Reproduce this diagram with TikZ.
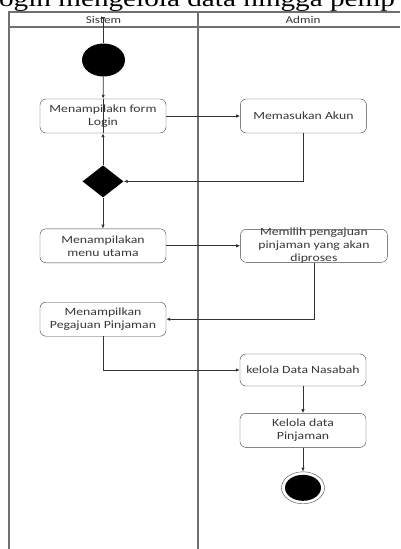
\documentclass[tikz,border=0pt]{standalone}
\usepackage{fontspec}
\setmainfont{Carlito}[FakeStretch=1.25]
\newfontfamily\titlefont{Liberation Serif}[FakeStretch=1.27]
\usepackage{tikz}
\usetikzlibrary{arrows.meta, positioning, shapes.geometric}
\definecolor{colorLane}{HTML}{707070}
\definecolor{colorBox}{HTML}{454545}
\definecolor{colorText}{HTML}{383838}
\tikzset{
  act/.style={draw=colorBox, rounded corners=6pt, minimum width=126pt, minimum height=34pt, inner sep=0pt, align=center, text=colorText, font=\fontsize{11}{13}\selectfont},
  acttext/.style={align=center, text=colorText, font=\fontsize{11}{13}\selectfont},
  flow/.style={draw=black!80, line width=0.8pt},
  lane/.style={draw=colorLane, line width=1.3pt}
}

\begin{document}
\begin{tikzpicture}[x=1pt, y=-1pt, >={Latex[length=4pt,width=3.5pt]}, node distance=32pt]
\path[use as bounding box, fill=white] (0,0) rectangle (400,549);
\clip (0,0) rectangle (400,549);
\node[anchor=base east, font=\titlefont\fontsize{23}{23}\selectfont] (title) at (398.5,6.5) {Login mengelola data hingga pemp};
% swimlane
\draw[lane] (9,549) -- (9,12) -- (400,12);
\draw[lane] (9,27) -- (400,27);
\draw[lane] (198,12) -- (198,549);
\node[acttext, font=\fontsize{10.5}{12}\selectfont] (sistem) at (103.5,19.5) {Sistem};
\node[acttext, font=\fontsize{10.5}{12}\selectfont] (admin) at (303,19.5) {Admin};
% activities
\node[ellipse, fill=black, minimum width=43pt, minimum height=33pt, inner sep=0pt] (start) at (103.5,60) {};
\coordinate (top) at (103.5,17);
\node[act] (login) at (103,116) {Menampilakn form\\Login};
\node[act, right=74pt of login] (akun) {Memasukan Akun};
\node[diamond, fill=black, minimum width=41pt, minimum height=32pt, inner sep=0pt, below=of login] (dec) {};
\node[act, below=31pt of dec] (menu) {Menampilakan\\menu utama};
\node[act, minimum width=147pt, minimum height=33pt, right=74pt of menu, label={[acttext]center:{Memilih pengajuan\\pinjaman yang akan\\diproses}}] (pilih) {};
\node[act, below=39pt of menu] (aju) {Menampilkan\\Pegajuan Pinjaman};
\node[act, minimum height=32pt] (nasabah) at (303,370) {kelola Data Nasabah};
\node[act, below=27pt of nasabah] (pinjam) {Kelola data\\Pinjaman};
\node[ellipse, draw=colorBox, minimum width=43pt, minimum height=32pt, inner sep=0pt, below=24pt of pinjam] (final) {};
\node[ellipse, fill=black, minimum width=36pt, minimum height=26pt, inner sep=0pt] (finalin) at (final) {};
% flows
\draw[flow, -{Latex[length=4pt,width=3.5pt,reversed]}] (start) -- (top);
\draw[flow, ->] (start) -- (login);
\draw[flow] (login.north) -- (login.south);
\draw[flow, ->] (dec) -- (login);
\draw[flow, ->] (login) -- (akun);
\draw[flow, ->] (akun) |- (dec);
\draw[flow, ->] (dec) -- (menu);
\draw[flow, ->] (menu) -- (pilih);
\draw[flow, ->] (pilih) |- (aju);
\draw[flow, ->] (aju) |- (nasabah);
\draw[flow, ->] (nasabah) -- (pinjam);
\draw[flow, ->] (pinjam) -- (final);
\end{tikzpicture}
\end{document}
